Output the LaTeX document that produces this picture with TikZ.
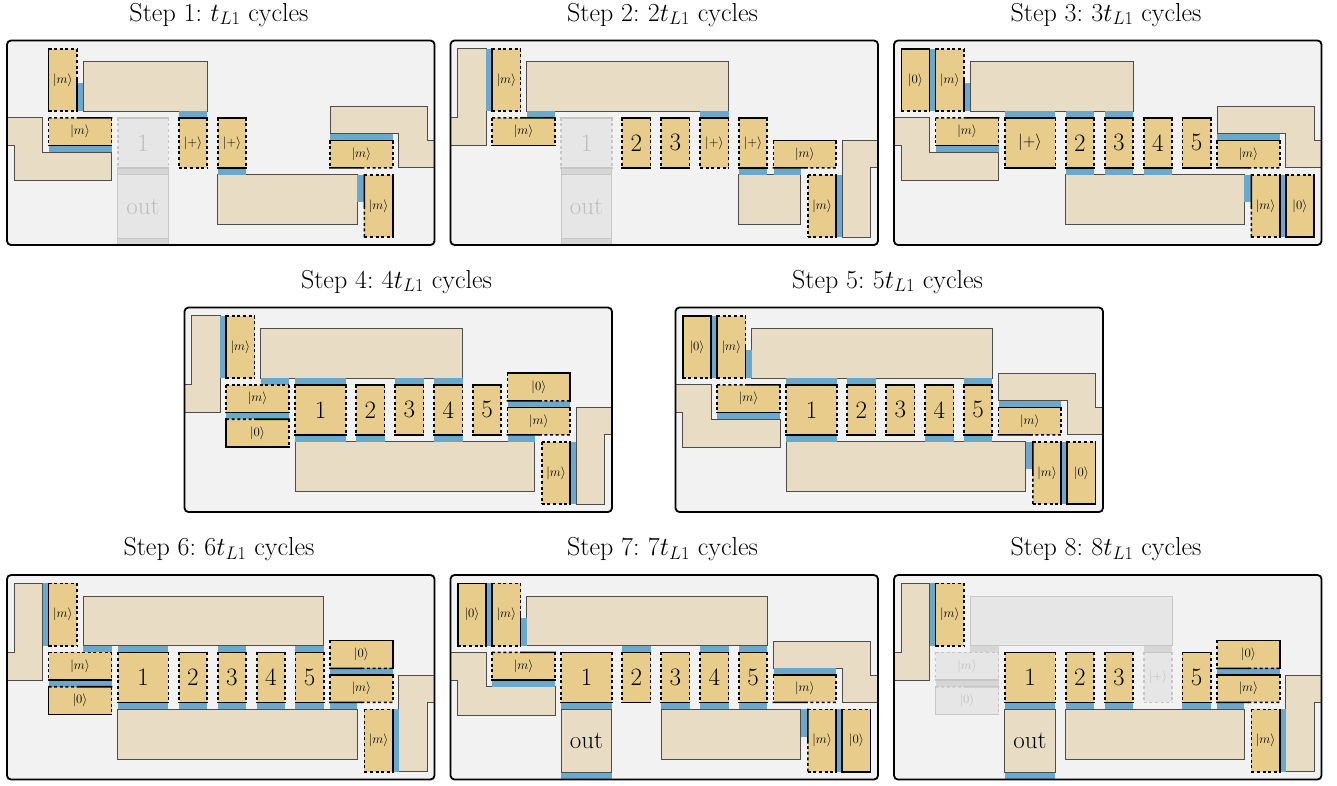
\RequirePackage{fix-cm}
\documentclass[tikz,border=0pt]{standalone}
\usetikzlibrary{calc}
\definecolor{bgc}{RGB}{242,242,242}
\definecolor{tilec}{RGB}{232,204,140}
\definecolor{beigec}{RGB}{232,220,196}
\definecolor{bluec}{RGB}{106,168,204}
\definecolor{fadec}{RGB}{230,230,230}
\definecolor{fadeline}{RGB}{198,198,198}
\definecolor{fadestrip}{RGB}{214,214,214}
\definecolor{fadetext}{RGB}{190,190,190}
\definecolor{beigeline}{RGB}{77,77,77}
\newcounter{lbl}
\def\edgecol{black}\def\tfill{tilec}\def\tcol{black}
\def\cla{110.7}\def\cra{161.3}
\def\clb{171.7}\def\crb{200}
\def\clc{210.7}\def\crc{239}
\def\cld{249.7}\def\crd{278}
\def\cle{288.3}\def\cre{316.7}
\tikzset{
  sedge/.style={draw=\edgecol, line width=1.6pt, line cap=rect},
  dedge/.style={draw=\edgecol, line width=1.6pt, dash pattern=on 3pt off 2.6pt},
  beigestyle/.style={fill=beigec, draw=beigeline, line width=0.8pt},
  lab/.style={inner sep=0pt, text=\tcol},
  ttl/.style={inner sep=0pt, anchor=base, font=\fontsize{26}{30}\selectfont},
}
\newcommand\edS[2]{\draw[sedge] #1 -- #2;}
\newcommand\edD[2]{\draw[dedge] #1 -- #2;}
\newcommand\edSD[2]{\draw[sedge] #1 -- ($#1!0.5!#2$); \draw[dedge] ($#1!0.5!#2$) -- #2;}
\newcommand\edDS[2]{\draw[dedge] #1 -- ($#1!0.5!#2$); \draw[sedge] ($#1!0.5!#2$) -- #2;}
\newcommand\tile[9]{%
  \fill[fill=\tfill] (#1,#2) rectangle (#3,#4);
  \csname ed#5\endcsname{(#1,#2)}{(#3,#2)}%
  \csname ed#6\endcsname{(#3,#2)}{(#3,#4)}%
  \csname ed#7\endcsname{(#1,#4)}{(#3,#4)}%
  \csname ed#8\endcsname{(#1,#2)}{(#1,#4)}%
  \stepcounter{lbl}%
  \node[lab] (n\arabic{lbl}) at ($(#1,#2)!0.5!(#3,#4)$) {#9};%
}
\newcommand\ctile[4]{\edef\tmpl{\csname cl#1\endcsname}\edef\tmpr{\csname cr#1\endcsname}%
  \tile{\tmpl}{77.3}{\tmpr}{127.3}{#2}{D}{#3}{D}{#4}}
\newcommand\strip[4]{\fill[bluec] (#1,#2) rectangle (#3,#4);}
\newcommand\sab[1]{\edef\tmpl{\csname cl#1\endcsname}\edef\tmpr{\csname cr#1\endcsname}\strip{\tmpl}{70.7}{\tmpr}{77.3}}
\newcommand\sbe[1]{\edef\tmpl{\csname cl#1\endcsname}\edef\tmpr{\csname cr#1\endcsname}\strip{\tmpl}{127.3}{\tmpr}{134.3}}
\newcommand\beige[1]{\filldraw[beigestyle] #1 -- cycle;}
\newcommand\ketM{\fontsize{12.8}{14}\selectfont$|m\rangle$}
\newcommand\ketZ{\fontsize{12.8}{14}\selectfont$|0\rangle$}
\newcommand\ketP{\fontsize{12.8}{14}\selectfont$|{+}\rangle$}
\newcommand\ketPb{\fontsize{16.5}{18}\selectfont$|{+}\rangle$}
\newcommand\bnum[1]{\fontsize{25}{28}\selectfont #1}
\newcommand\panelbg{\fill[bgc, rounded corners=4pt] (0,0) rectangle (427.5,204.5);}
\newcommand\panelbox{\draw[line width=1.8pt, rounded corners=4pt] (0,0) rectangle (427.5,204.5);}
\newcommand\leftL{\beige{(0,77.3) -- (35.6,77.3) -- (35.6,111.7) -- (104.5,111.7) -- (104.5,140) -- (7.3,140) -- (7.3,105) -- (0,105)}}
\newcommand\leftTall{\beige{(7.3,8.3) -- (35.6,8.3) -- (35.6,105) -- (0,105) -- (0,77.3) -- (7.3,77.3)}}
\newcommand\rightL{\beige{(323,66) -- (420,66) -- (420,100) -- (427.5,100) -- (427.5,127.3) -- (391.7,127.3) -- (391.7,93.3) -- (323,93.3)}}
\newcommand\rightTall{\beige{(391.7,100) -- (427.5,100) -- (427.5,127.3) -- (420,127.3) -- (420,196.7) -- (391.7,196.7)}}
\newcommand\topBeige[1]{\beige{(76.3,21) -- (#1,21) -- (#1,70.7) -- (76.3,70.7)}}
\newcommand\botBeige[1]{\beige{(#1,134.3) -- (350,134.3) -- (350,184) -- (#1,184)}}
\newcommand\fadeone{%
  \begingroup\def\edgecol{fadeline}\def\tfill{fadec}\def\tcol{fadetext}%
  \fill[fadestrip] (\cla,127.3) rectangle (\cra,134.3);
  \fill[fadec] (\cla,134.3) rectangle (\cra,197.7);
  \fill[fadestrip] (\cla,197.7) rectangle (\cra,204.5);
  \draw[fadeline, line width=0.8pt] (\cla,127.3) -- (\cla,204.5) (\cra,127.3) -- (\cra,204.5) (\cla,134.3) -- (\cra,134.3) (\cla,197.7) -- (\cra,197.7);
  \ctile{a}{S}{S}{\bnum{1}}%
  \stepcounter{lbl}\node[lab] (n\arabic{lbl}) at (136,166) {\bnum{out}};%
  \endgroup}
\newcommand\outtile{%
  \beige{(\cla,134.3) -- (\cra,134.3) -- (\cra,197.7) -- (\cla,197.7)}
  \sbe{a}\strip{\cla}{197.7}{\cra}{204.5}
  \stepcounter{lbl}\node[lab] (n\arabic{lbl}) at (136,166) {\bnum{out}};}
\newcommand\steptitle[2]{Step #1:\hspace{0.32em}$#2t_{L1}$ cycles}
\begin{document}
\begin{tikzpicture}[x=1pt,y=-1pt]
\useasboundingbox (0,0) rectangle (1337,785);
\fill[white] (0,0) rectangle (1337,785);
% titles
\node[ttl] (T1) at (219,21) {\steptitle{1}{}};
\node[ttl] (T2) at (662.5,21) {\steptitle{2}{2}};
\node[ttl] (T3) at (1106,21) {\steptitle{3}{3}};
\node[ttl] (T4) at (396.5,288) {\steptitle{4}{4}};
\node[ttl] (T5) at (887.5,288) {\steptitle{5}{5}};
\node[ttl] (T6) at (219,555.5) {\steptitle{6}{6}};
\node[ttl] (T7) at (662.5,555.5) {\steptitle{7}{7}};
\node[ttl] (T8) at (1106,555.5) {\steptitle{8}{8}};
% ---------- Panel 1
\begin{scope}[shift={(7,40.5)}]
\panelbg
\leftL \rightL \topBeige{200} \botBeige{210.7}
\strip{70}{42.7}{76.3}{70.7}
\strip{41.6}{105}{104.5}{111.7}
\sab{b} \sbe{c}
\strip{323}{93.3}{385.7}{100}
\strip{350}{134.3}{357.3}{161.7}
\fadeone
\tile{41.6}{8.3}{70}{70.7}{D}{DS}{D}{S}{\ketM}
\tile{41.6}{77.3}{104.5}{105}{DS}{D}{S}{D}{\ketM}
\ctile{b}{S}{D}{\ketP}
\ctile{c}{S}{S}{\ketP}
\tile{323}{100}{385.7}{127.3}{S}{D}{SD}{D}{\ketM}
\tile{357.3}{134.3}{385.7}{196.7}{D}{S}{D}{SD}{\ketM}
\panelbox
\end{scope}
% ---------- Panel 2
\begin{scope}[shift={(450.5,40.5)}]
\panelbg
\leftTall \rightTall \topBeige{278} \botBeige{288.3}
\strip{35.6}{8.3}{41.6}{70.7}
\strip{76.3}{70.7}{104.5}{77.3}
\sab{d} \sbe{e}
\strip{323}{127.3}{350}{134.3}
\strip{385.7}{134.3}{391.7}{196.7}
\fadeone
\tile{41.6}{8.3}{70}{70.7}{D}{D}{D}{S}{\ketM}
\tile{41.6}{77.3}{104.5}{105}{DS}{D}{S}{D}{\ketM}
\ctile{b}{S}{S}{\bnum{2}}
\ctile{c}{S}{S}{\bnum{3}}
\ctile{d}{S}{D}{\ketP}
\ctile{e}{S}{S}{\ketP}
\tile{323}{100}{385.7}{127.3}{S}{D}{SD}{D}{\ketM}
\tile{357.3}{134.3}{385.7}{196.7}{D}{S}{D}{D}{\ketM}
\panelbox
\end{scope}
% ---------- Panel 3
\begin{scope}[shift={(894,40.5)}]
\panelbg
\leftL \rightL \topBeige{239} \botBeige{171.7}
\strip{35.6}{8.3}{41.6}{70.7}
\strip{70}{42.7}{76.3}{70.7}
\strip{41.6}{105}{104.5}{111.7}
\sab{a} \sab{b} \sab{c}
\sbe{b} \sbe{c} \sbe{d}
\strip{323}{93.3}{385.7}{100}
\strip{350}{134.3}{357.3}{161.7}
\strip{385.7}{134.3}{391.7}{196.7}
\tile{7.3}{8.3}{35.6}{70.7}{S}{S}{D}{S}{\ketZ}
\tile{41.6}{8.3}{70}{70.7}{D}{DS}{D}{S}{\ketM}
\tile{41.6}{77.3}{104.5}{105}{DS}{D}{S}{D}{\ketM}
\ctile{a}{S}{S}{\ketPb}
\ctile{b}{S}{S}{\bnum{2}}
\ctile{c}{S}{S}{\bnum{3}}
\ctile{d}{S}{S}{\bnum{4}}
\ctile{e}{S}{S}{\bnum{5}}
\tile{323}{100}{385.7}{127.3}{S}{D}{SD}{D}{\ketM}
\tile{357.3}{134.3}{385.7}{196.7}{D}{S}{D}{SD}{\ketM}
\tile{391.7}{134.3}{420}{196.7}{D}{S}{S}{S}{\ketZ}
\panelbox
\end{scope}
% ---------- Panel 4
\begin{scope}[shift={(184.5,307.5)}]
\panelbg
\leftTall \rightTall \topBeige{278} \botBeige{110.7}
\strip{35.6}{8.3}{41.6}{70.7}
\strip{76.3}{70.7}{104.5}{77.3}
\strip{41.6}{105}{104.5}{111.7}
\sab{a} \sab{c} \sab{d}
\sbe{a} \sbe{b} \sbe{d}
\strip{323}{93.3}{385.7}{100}
\strip{323}{127.3}{350}{134.3}
\strip{385.7}{134.3}{391.7}{196.7}
\tile{41.6}{8.3}{70}{70.7}{D}{D}{D}{S}{\ketM}
\tile{41.6}{77.3}{104.5}{105}{D}{D}{S}{D}{\ketM}
\tile{41.6}{111.7}{104.5}{139.3}{DS}{D}{S}{S}{\ketZ}
\ctile{a}{S}{S}{\bnum{1}}
\ctile{b}{S}{S}{\bnum{2}}
\ctile{c}{S}{S}{\bnum{3}}
\ctile{d}{S}{S}{\bnum{4}}
\ctile{e}{S}{S}{\bnum{5}}
\tile{323}{65.3}{385.7}{93.3}{S}{S}{SD}{D}{\ketZ}
\tile{323}{100}{385.7}{127.3}{S}{D}{SD}{D}{\ketM}
\tile{357.3}{134.3}{385.7}{196.7}{D}{S}{D}{D}{\ketM}
\panelbox
\end{scope}
% ---------- Panel 5
\begin{scope}[shift={(675.5,307.5)}]
\panelbg
\leftL \rightL \topBeige{316.7} \botBeige{110.7}
\strip{35.6}{8.3}{41.6}{70.7}
\strip{70}{42.7}{76.3}{70.7}
\strip{41.6}{105}{104.5}{111.7}
\sab{a} \sab{b} \sab{e}
\sbe{a} \sbe{d} \sbe{e}
\strip{323}{93.3}{385.7}{100}
\strip{350}{134.3}{357.3}{161.7}
\strip{385.7}{134.3}{391.7}{196.7}
\tile{7.3}{8.3}{35.6}{70.7}{S}{S}{D}{S}{\ketZ}
\tile{41.6}{8.3}{70}{70.7}{D}{DS}{D}{S}{\ketM}
\tile{41.6}{77.3}{104.5}{105}{DS}{D}{S}{D}{\ketM}
\ctile{a}{S}{S}{\bnum{1}}
\ctile{b}{S}{S}{\bnum{2}}
\ctile{c}{S}{S}{\bnum{3}}
\ctile{d}{S}{S}{\bnum{4}}
\ctile{e}{S}{S}{\bnum{5}}
\tile{323}{100}{385.7}{127.3}{S}{D}{SD}{D}{\ketM}
\tile{357.3}{134.3}{385.7}{196.7}{D}{S}{D}{SD}{\ketM}
\tile{391.7}{134.3}{420}{196.7}{D}{S}{S}{S}{\ketZ}
\panelbox
\end{scope}
% ---------- Panel 6
\begin{scope}[shift={(7,575)}]
\panelbg
\leftTall \rightTall \topBeige{316.7} \botBeige{110.7}
\strip{35.6}{8.3}{41.6}{70.7}
\strip{76.3}{70.7}{104.5}{77.3}
\strip{41.6}{105}{104.5}{111.7}
\sab{a} \sab{c} \sab{e}
\sbe{a} \sbe{b} \sbe{c} \sbe{d} \sbe{e}
\strip{323}{93.3}{385.7}{100}
\strip{323}{127.3}{350}{134.3}
\strip{385.7}{134.3}{391.7}{196.7}
\tile{41.6}{8.3}{70}{70.7}{D}{D}{D}{S}{\ketM}
\tile{41.6}{77.3}{104.5}{105}{D}{D}{S}{D}{\ketM}
\tile{41.6}{111.7}{104.5}{139.3}{DS}{D}{S}{S}{\ketZ}
\ctile{a}{S}{S}{\bnum{1}}
\ctile{b}{S}{S}{\bnum{2}}
\ctile{c}{S}{S}{\bnum{3}}
\ctile{d}{S}{S}{\bnum{4}}
\ctile{e}{S}{S}{\bnum{5}}
\tile{323}{65.3}{385.7}{93.3}{S}{S}{SD}{D}{\ketZ}
\tile{323}{100}{385.7}{127.3}{S}{D}{SD}{D}{\ketM}
\tile{357.3}{134.3}{385.7}{196.7}{D}{S}{D}{D}{\ketM}
\panelbox
\end{scope}
% ---------- Panel 7
\begin{scope}[shift={(450.5,575)}]
\panelbg
\leftL \rightL \topBeige{316.7} \botBeige{210.7}
\outtile
\strip{35.6}{8.3}{41.6}{70.7}
\strip{70}{42.7}{76.3}{70.7}
\strip{41.6}{105}{104.5}{111.7}
\sab{b} \sab{d} \sab{e}
\sbe{c} \sbe{d} \sbe{e}
\strip{323}{93.3}{385.7}{100}
\strip{350}{134.3}{357.3}{161.7}
\strip{385.7}{134.3}{391.7}{196.7}
\tile{7.3}{8.3}{35.6}{70.7}{S}{S}{D}{S}{\ketZ}
\tile{41.6}{8.3}{70}{70.7}{D}{DS}{D}{S}{\ketM}
\tile{41.6}{77.3}{104.5}{105}{DS}{D}{S}{D}{\ketM}
\ctile{a}{S}{S}{\bnum{1}}
\ctile{b}{S}{S}{\bnum{2}}
\ctile{c}{S}{S}{\bnum{3}}
\ctile{d}{S}{S}{\bnum{4}}
\ctile{e}{S}{S}{\bnum{5}}
\tile{323}{100}{385.7}{127.3}{S}{D}{SD}{D}{\ketM}
\tile{357.3}{134.3}{385.7}{196.7}{D}{S}{D}{SD}{\ketM}
\tile{391.7}{134.3}{420}{196.7}{D}{S}{S}{S}{\ketZ}
\panelbox
\end{scope}
% ---------- Panel 8
\begin{scope}[shift={(894,575)}]
\panelbg
\leftTall \rightTall \botBeige{171.7}
\filldraw[fill=fadec, draw=fadeline, line width=0.8pt] (76.3,21) rectangle (278,70.7);
\fill[fadestrip] (76.3,70.7) rectangle (104.5,77.3);
\fill[fadestrip] (\cld,70.7) rectangle (\crd,77.3);
\fill[fadestrip] (41.6,105) rectangle (104.5,111.7);
\outtile
\strip{35.6}{8.3}{41.6}{70.7}
\sbe{b} \sbe{c} \sbe{e}
\strip{323}{93.3}{385.7}{100}
\strip{323}{127.3}{350}{134.3}
\strip{385.7}{134.3}{391.7}{196.7}
\tile{41.6}{8.3}{70}{70.7}{D}{D}{D}{S}{\ketM}
\begingroup\def\edgecol{fadeline}\def\tfill{fadec}\def\tcol{fadetext}%
\tile{41.6}{77.3}{104.5}{105}{D}{D}{S}{D}{\ketM}
\tile{41.6}{111.7}{104.5}{139.3}{DS}{D}{S}{S}{\ketZ}
\ctile{d}{S}{D}{\ketP}
\endgroup
\ctile{a}{S}{S}{\bnum{1}}
\ctile{b}{S}{S}{\bnum{2}}
\ctile{c}{S}{S}{\bnum{3}}
\ctile{e}{S}{S}{\bnum{5}}
\tile{323}{65.3}{385.7}{93.3}{S}{S}{SD}{D}{\ketZ}
\tile{323}{100}{385.7}{127.3}{S}{D}{SD}{D}{\ketM}
\tile{357.3}{134.3}{385.7}{196.7}{D}{S}{D}{D}{\ketM}
\panelbox
\end{scope}
\end{tikzpicture}
\end{document}
